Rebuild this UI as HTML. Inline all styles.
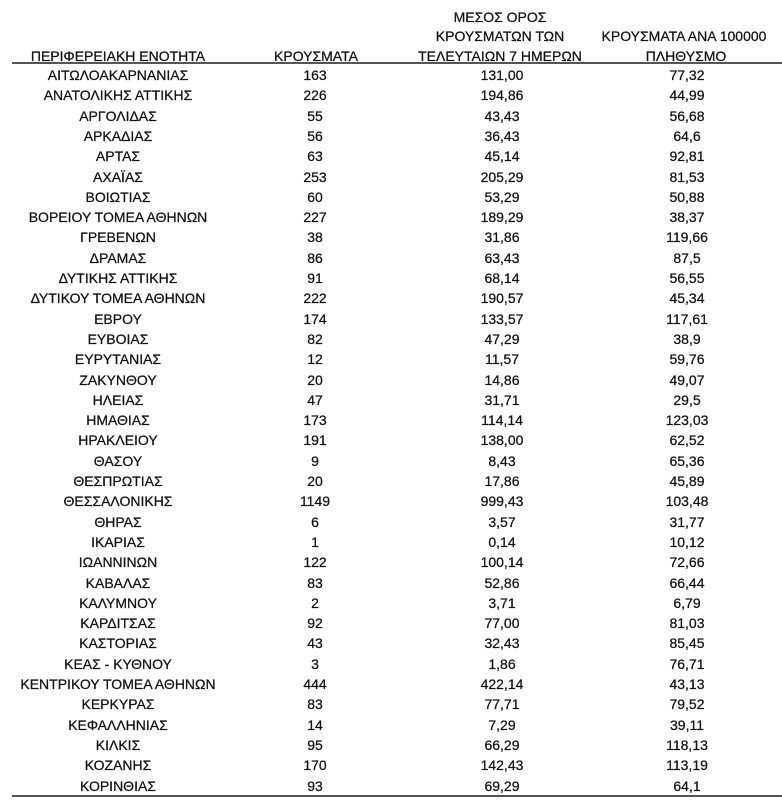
<!DOCTYPE html>
<html><head><meta charset="utf-8"><style>
html,body{margin:0;padding:0;background:#fff;width:782px;height:800px;overflow:hidden}
body{position:relative;font-family:"Liberation Sans","DejaVu Sans",sans-serif;font-size:14px;color:#111;-webkit-text-stroke:0.25px #111}
.t{position:absolute;width:240px;text-align:center;line-height:20px;white-space:nowrap}
.line{position:absolute;left:12px;width:770px;height:2px;background:#555}
</style></head><body>
<div class="t" style="left:-2px;top:46px">ΠΕΡΙΦΕΡΕΙΑΚΗ ΕΝΟΤΗΤΑ</div>
<div class="t" style="left:196px;top:46px">ΚΡΟΥΣΜΑΤΑ</div>
<div class="t" style="left:380px;top:7px">ΜΕΣΟΣ ΟΡΟΣ</div>
<div class="t" style="left:380px;top:26px">ΚΡΟΥΣΜΑΤΩΝ ΤΩΝ</div>
<div class="t" style="left:380px;top:46px">ΤΕΛΕΥΤΑΙΩΝ 7 ΗΜΕΡΩΝ</div>
<div class="t" style="left:564px;top:26px">ΚΡΟΥΣΜΑΤΑ ΑΝΑ 100000</div>
<div class="t" style="left:566px;top:46px">ΠΛΗΘΥΣΜΟ</div>
<div class="line" style="top:62px"></div>
<div class="line" style="top:795px"></div>
<div style="position:absolute;left:0;top:0">
<div class="t" style="left:-2px;top:65px">ΑΙΤΩΛΟΑΚΑΡΝΑΝΙΑΣ</div><div class="t" style="left:195px;top:65px">163</div><div class="t" style="left:382px;top:65px">131,00</div><div class="t" style="left:567px;top:65px">77,32</div>
<div class="t" style="left:-2px;top:85.3px">ΑΝΑΤΟΛΙΚΗΣ ΑΤΤΙΚΗΣ</div><div class="t" style="left:195px;top:85.3px">226</div><div class="t" style="left:382px;top:85.3px">194,86</div><div class="t" style="left:567px;top:85.3px">44,99</div>
<div class="t" style="left:-2px;top:105.6px">ΑΡΓΟΛΙΔΑΣ</div><div class="t" style="left:195px;top:105.6px">55</div><div class="t" style="left:382px;top:105.6px">43,43</div><div class="t" style="left:567px;top:105.6px">56,68</div>
<div class="t" style="left:-2px;top:125.9px">ΑΡΚΑΔΙΑΣ</div><div class="t" style="left:195px;top:125.9px">56</div><div class="t" style="left:382px;top:125.9px">36,43</div><div class="t" style="left:567px;top:125.9px">64,6</div>
<div class="t" style="left:-2px;top:146.2px">ΑΡΤΑΣ</div><div class="t" style="left:195px;top:146.2px">63</div><div class="t" style="left:382px;top:146.2px">45,14</div><div class="t" style="left:567px;top:146.2px">92,81</div>
<div class="t" style="left:-2px;top:166.5px">ΑΧΑΪΑΣ</div><div class="t" style="left:195px;top:166.5px">253</div><div class="t" style="left:382px;top:166.5px">205,29</div><div class="t" style="left:567px;top:166.5px">81,53</div>
<div class="t" style="left:-2px;top:186.8px">ΒΟΙΩΤΙΑΣ</div><div class="t" style="left:195px;top:186.8px">60</div><div class="t" style="left:382px;top:186.8px">53,29</div><div class="t" style="left:567px;top:186.8px">50,88</div>
<div class="t" style="left:-2px;top:207.1px">ΒΟΡΕΙΟΥ ΤΟΜΕΑ ΑΘΗΝΩΝ</div><div class="t" style="left:195px;top:207.1px">227</div><div class="t" style="left:382px;top:207.1px">189,29</div><div class="t" style="left:567px;top:207.1px">38,37</div>
<div class="t" style="left:-2px;top:227.4px">ΓΡΕΒΕΝΩΝ</div><div class="t" style="left:195px;top:227.4px">38</div><div class="t" style="left:382px;top:227.4px">31,86</div><div class="t" style="left:567px;top:227.4px">119,66</div>
<div class="t" style="left:-2px;top:247.7px">ΔΡΑΜΑΣ</div><div class="t" style="left:195px;top:247.7px">86</div><div class="t" style="left:382px;top:247.7px">63,43</div><div class="t" style="left:567px;top:247.7px">87,5</div>
<div class="t" style="left:-2px;top:268px">ΔΥΤΙΚΗΣ ΑΤΤΙΚΗΣ</div><div class="t" style="left:195px;top:268px">91</div><div class="t" style="left:382px;top:268px">68,14</div><div class="t" style="left:567px;top:268px">56,55</div>
<div class="t" style="left:-2px;top:288.3px">ΔΥΤΙΚΟΥ ΤΟΜΕΑ ΑΘΗΝΩΝ</div><div class="t" style="left:195px;top:288.3px">222</div><div class="t" style="left:382px;top:288.3px">190,57</div><div class="t" style="left:567px;top:288.3px">45,34</div>
<div class="t" style="left:-2px;top:308.6px">ΕΒΡΟΥ</div><div class="t" style="left:195px;top:308.6px">174</div><div class="t" style="left:382px;top:308.6px">133,57</div><div class="t" style="left:567px;top:308.6px">117,61</div>
<div class="t" style="left:-2px;top:328.9px">ΕΥΒΟΙΑΣ</div><div class="t" style="left:195px;top:328.9px">82</div><div class="t" style="left:382px;top:328.9px">47,29</div><div class="t" style="left:567px;top:328.9px">38,9</div>
<div class="t" style="left:-2px;top:349.2px">ΕΥΡΥΤΑΝΙΑΣ</div><div class="t" style="left:195px;top:349.2px">12</div><div class="t" style="left:382px;top:349.2px">11,57</div><div class="t" style="left:567px;top:349.2px">59,76</div>
<div class="t" style="left:-2px;top:369.5px">ΖΑΚΥΝΘΟΥ</div><div class="t" style="left:195px;top:369.5px">20</div><div class="t" style="left:382px;top:369.5px">14,86</div><div class="t" style="left:567px;top:369.5px">49,07</div>
<div class="t" style="left:-2px;top:389.8px">ΗΛΕΙΑΣ</div><div class="t" style="left:195px;top:389.8px">47</div><div class="t" style="left:382px;top:389.8px">31,71</div><div class="t" style="left:567px;top:389.8px">29,5</div>
<div class="t" style="left:-2px;top:410.1px">ΗΜΑΘΙΑΣ</div><div class="t" style="left:195px;top:410.1px">173</div><div class="t" style="left:382px;top:410.1px">114,14</div><div class="t" style="left:567px;top:410.1px">123,03</div>
<div class="t" style="left:-2px;top:430.4px">ΗΡΑΚΛΕΙΟΥ</div><div class="t" style="left:195px;top:430.4px">191</div><div class="t" style="left:382px;top:430.4px">138,00</div><div class="t" style="left:567px;top:430.4px">62,52</div>
<div class="t" style="left:-2px;top:450.7px">ΘΑΣΟΥ</div><div class="t" style="left:195px;top:450.7px">9</div><div class="t" style="left:382px;top:450.7px">8,43</div><div class="t" style="left:567px;top:450.7px">65,36</div>
<div class="t" style="left:-2px;top:471px">ΘΕΣΠΡΩΤΙΑΣ</div><div class="t" style="left:195px;top:471px">20</div><div class="t" style="left:382px;top:471px">17,86</div><div class="t" style="left:567px;top:471px">45,89</div>
<div class="t" style="left:-2px;top:491.3px">ΘΕΣΣΑΛΟΝΙΚΗΣ</div><div class="t" style="left:195px;top:491.3px">1149</div><div class="t" style="left:382px;top:491.3px">999,43</div><div class="t" style="left:567px;top:491.3px">103,48</div>
<div class="t" style="left:-2px;top:511.6px">ΘΗΡΑΣ</div><div class="t" style="left:195px;top:511.6px">6</div><div class="t" style="left:382px;top:511.6px">3,57</div><div class="t" style="left:567px;top:511.6px">31,77</div>
<div class="t" style="left:-2px;top:531.9px">ΙΚΑΡΙΑΣ</div><div class="t" style="left:195px;top:531.9px">1</div><div class="t" style="left:382px;top:531.9px">0,14</div><div class="t" style="left:567px;top:531.9px">10,12</div>
<div class="t" style="left:-2px;top:552.2px">ΙΩΑΝΝΙΝΩΝ</div><div class="t" style="left:195px;top:552.2px">122</div><div class="t" style="left:382px;top:552.2px">100,14</div><div class="t" style="left:567px;top:552.2px">72,66</div>
<div class="t" style="left:-2px;top:572.5px">ΚΑΒΑΛΑΣ</div><div class="t" style="left:195px;top:572.5px">83</div><div class="t" style="left:382px;top:572.5px">52,86</div><div class="t" style="left:567px;top:572.5px">66,44</div>
<div class="t" style="left:-2px;top:592.8px">ΚΑΛΥΜΝΟΥ</div><div class="t" style="left:195px;top:592.8px">2</div><div class="t" style="left:382px;top:592.8px">3,71</div><div class="t" style="left:567px;top:592.8px">6,79</div>
<div class="t" style="left:-2px;top:613.1px">ΚΑΡΔΙΤΣΑΣ</div><div class="t" style="left:195px;top:613.1px">92</div><div class="t" style="left:382px;top:613.1px">77,00</div><div class="t" style="left:567px;top:613.1px">81,03</div>
<div class="t" style="left:-2px;top:633.4px">ΚΑΣΤΟΡΙΑΣ</div><div class="t" style="left:195px;top:633.4px">43</div><div class="t" style="left:382px;top:633.4px">32,43</div><div class="t" style="left:567px;top:633.4px">85,45</div>
<div class="t" style="left:-2px;top:653.7px">ΚΕΑΣ - ΚΥΘΝΟΥ</div><div class="t" style="left:195px;top:653.7px">3</div><div class="t" style="left:382px;top:653.7px">1,86</div><div class="t" style="left:567px;top:653.7px">76,71</div>
<div class="t" style="left:-2px;top:674px">ΚΕΝΤΡΙΚΟΥ ΤΟΜΕΑ ΑΘΗΝΩΝ</div><div class="t" style="left:195px;top:674px">444</div><div class="t" style="left:382px;top:674px">422,14</div><div class="t" style="left:567px;top:674px">43,13</div>
<div class="t" style="left:-2px;top:694.3px">ΚΕΡΚΥΡΑΣ</div><div class="t" style="left:195px;top:694.3px">83</div><div class="t" style="left:382px;top:694.3px">77,71</div><div class="t" style="left:567px;top:694.3px">79,52</div>
<div class="t" style="left:-2px;top:714.6px">ΚΕΦΑΛΛΗΝΙΑΣ</div><div class="t" style="left:195px;top:714.6px">14</div><div class="t" style="left:382px;top:714.6px">7,29</div><div class="t" style="left:567px;top:714.6px">39,11</div>
<div class="t" style="left:-2px;top:734.9px">ΚΙΛΚΙΣ</div><div class="t" style="left:195px;top:734.9px">95</div><div class="t" style="left:382px;top:734.9px">66,29</div><div class="t" style="left:567px;top:734.9px">118,13</div>
<div class="t" style="left:-2px;top:755.2px">ΚΟΖΑΝΗΣ</div><div class="t" style="left:195px;top:755.2px">170</div><div class="t" style="left:382px;top:755.2px">142,43</div><div class="t" style="left:567px;top:755.2px">113,19</div>
<div class="t" style="left:-2px;top:775.5px">ΚΟΡΙΝΘΙΑΣ</div><div class="t" style="left:195px;top:775.5px">93</div><div class="t" style="left:382px;top:775.5px">69,29</div><div class="t" style="left:567px;top:775.5px">64,1</div>
</div>
</body></html>
